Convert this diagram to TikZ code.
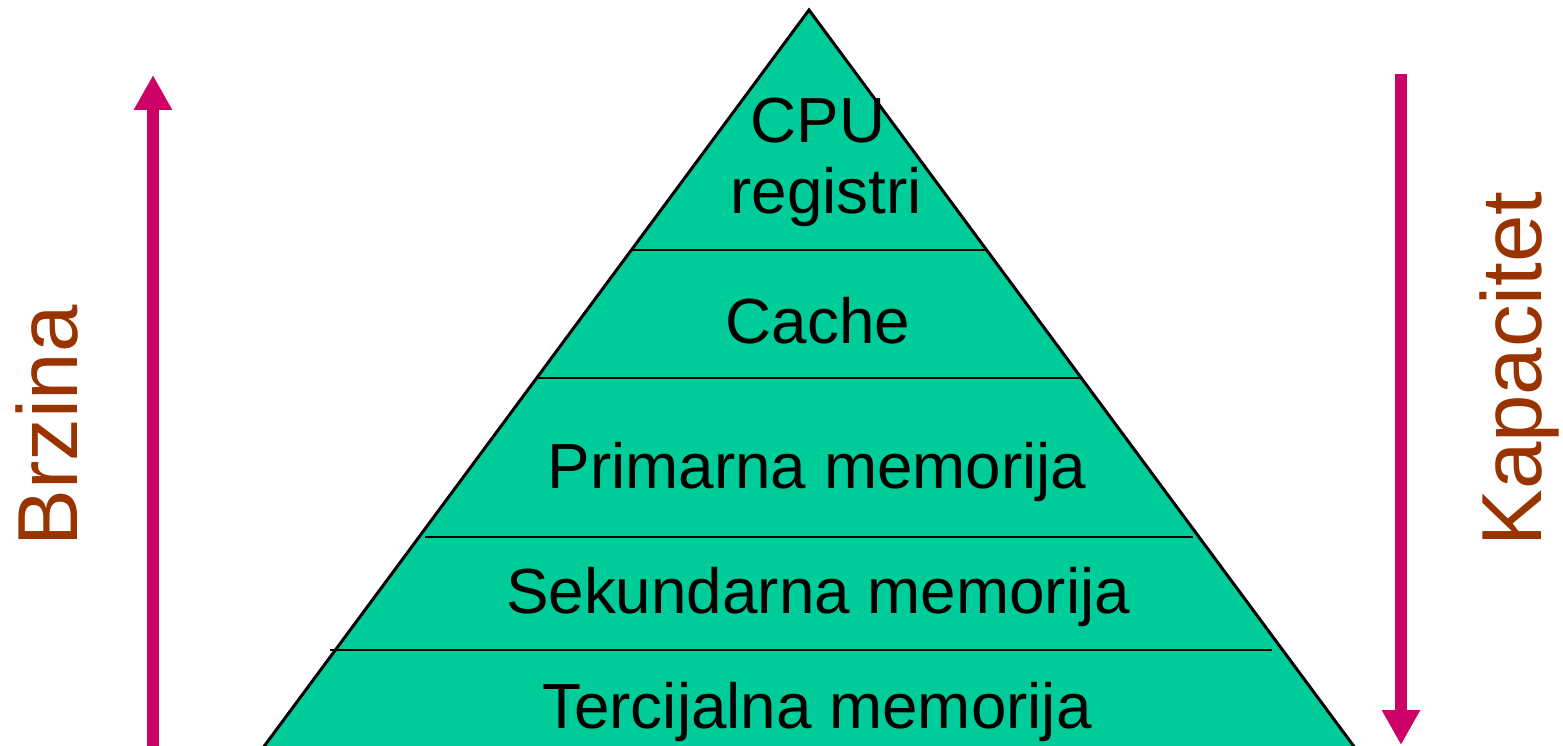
\documentclass[tikz,border=0pt]{standalone}
\usepackage{fontspec}
\setmainfont{Liberation Sans}
\usepackage{xcolor}
\usetikzlibrary{arrows.meta}
\definecolor{pyrgreen}{HTML}{00CC99}
\definecolor{arrowpink}{HTML}{CC0066}
\definecolor{labelbrown}{HTML}{993300}
\tikzset{
  level/.style  = {font=\fontsize{36.3}{40}\selectfont, anchor=base, inner sep=0pt},
  side/.style   = {font=\fontsize{48.5}{52}\selectfont, text=labelbrown,
                   rotate=90, anchor=base, inner sep=0pt},
  divider/.style = {draw=black, line width=1.7pt},
  bigarrow/.style = {draw=arrowpink, line width=12*0.02cm,
                     -{Triangle[width=36*0.02cm, length=35*0.02cm]}}
}

\begin{document}
\begin{tikzpicture}[x=0.02cm, y=-0.02cm]
  \useasboundingbox (0,0) rectangle (1563,746);
  % pyramid, its base lies below the frame
  \begin{scope}
    \clip (0,0) rectangle (1563,746);
    \filldraw[fill=pyrgreen, draw=black, line width=1.7pt]
      (809,10) -- (1364,760) -- (254,760) -- cycle;
  \end{scope}
  \draw[divider] (632,250) -- (985,250);
  \draw[divider] (538,378) -- (1080,378);
  \draw[divider] (425,537) -- (1193,537);
  \draw[divider] (330,650) -- (1272,650);
  % levels
  \node[level] (cpu)  at (818,143) {CPU};
  \node[level] (reg)  at (826,214) {registri};
  \node[level] (cache) at (818,344) {Cache};
  \node[level] (prim) at (817,489) {Primarna memorija};
  \node[level] (sek)  at (818,614) {Sekundarna memorija};
  \node[level] (ter)  at (817,728) {Tercijalna memorija};
  % arrows
  \coordinate (b0) at (153,746);
  \coordinate (b1) at (153,75);
  \coordinate (k0) at (1401,74);
  \coordinate (k1) at (1401,745);
  \draw[bigarrow] (b0) -- (b1);
  \draw[bigarrow] (k0) -- (k1);
  \node[side] (brzina) at (77,426) {Brzina};
  \node[side] (kap) at (1541,369) {Kapacitet};
\end{tikzpicture}
\end{document}
